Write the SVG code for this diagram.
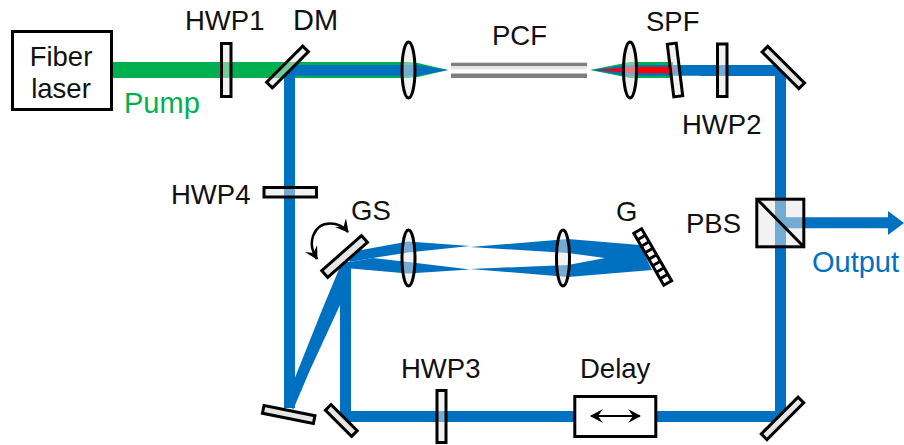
<svg xmlns="http://www.w3.org/2000/svg" width="904" height="445" viewBox="0 0 904 445">
<style>
text{font-family:"Liberation Sans",Arial,sans-serif;font-size:27.5px;fill:#111}
.big{font-size:29px}
.el{stroke:#000;stroke-width:3;fill:#e6e6e6}
.semi{fill-opacity:.5}
.box{stroke:#000;stroke-width:3;fill:#fff}
.blue{fill:#0070c0}
.green{fill:#00b050}
.red{fill:#ff0000}
</style>
<defs>
<marker id="stealth" viewBox="0 0 14 14" refX="12" refY="7" markerWidth="14" markerHeight="14" markerUnits="userSpaceOnUse" orient="auto-start-reverse">
<path d="M0,0 L13,7 L0,14 L5,7 Z" fill="#000"/>
</marker>
</defs>
<rect width="904" height="445" fill="#fff"/>
<g id="connectors">
<polygon class="green" points="112,62 408,62 418,63 448,70 418,77 408,78 112,78"/>
<polygon class="green" points="590,70 630,62 673,62 673,78 630,78"/>
<polygon class="blue" points="284,408 284,76 295,65 418,65 448,70 418,75.7 295,75.7 295,408"/>
<polygon class="blue" points="592,70 625,65 780,65 780,75.7 625,75.7"/>
<polygon class="red" points="596,70 635,66.7 674,66.7 674,73.3 635,73.3"/>
<path d="M345.5,262 V416.5 H780.5 V70.5 H700" fill="none" stroke="#0070c0" stroke-width="11"/>
<polygon class="blue" points="342,262 322,310 288,395 293,410 310,370 340,305 346,290"/>
<polygon class="blue" points="345,253 408,241.5 470,246 408,252.5 373,258 350,262"/>
<polygon class="blue" points="345,263 373,258 408,262 470,269.5 408,273.5 345,268"/>
<polygon class="blue" points="470,247 568,239 640,245 652,270 568,277 470,269 568,265 605,258 568,253"/>
<polygon class="blue" points="780,217.3 888,217.3 888,211 904,223 888,235 888,228.3 780,228.3"/>
</g>
<g id="fiber-laser">
<rect class="box" x="12.5" y="31.5" width="99" height="78"/>
<text x="61" y="66" text-anchor="middle">Fiber</text>
<text x="61" y="98" text-anchor="middle">laser</text>
</g>
<text class="big" x="124" y="113" style="fill:#00b050">Pump</text>
<g id="hwp1">
<rect class="el semi" x="221.5" y="43.5" width="9.5" height="53"/>
<text x="185" y="30">HWP1</text>
</g>
<g id="dm">
<rect class="el semi" x="-25.5" y="-4" width="51" height="8" transform="translate(287.5,67) rotate(-45)"/>
<text x="293" y="30" class="big">DM</text>
</g>
<g id="lens1"><ellipse class="el semi" cx="408.5" cy="70" rx="6.5" ry="28"/></g>
<g id="pcf">
<rect x="451" y="62.7" width="136" height="3.6" fill="#7f7f7f"/>
<rect x="451" y="66.3" width="136" height="3.2" fill="#e6e6e6"/>
<rect x="451" y="73.5" width="136" height="4.500" fill="#7f7f7f"/>
<text x="492" y="45">PCF</text>
</g>
<g id="lens2"><ellipse class="el semi" cx="630" cy="70" rx="6.5" ry="28"/></g>
<g id="spf">
<rect class="el semi" x="-4.5" y="-26.5" width="9" height="53" transform="translate(675,70) rotate(-7)"/>
<text x="646" y="31">SPF</text>
</g>
<g id="hwp2">
<rect class="el semi" x="717.5" y="44" width="9.5" height="52.5"/>
<text x="682" y="134">HWP2</text>
</g>
<g id="mirror-top-right"><rect class="el" x="-26" y="-4" width="52" height="8" transform="translate(783.3,67.5) rotate(45)"/></g>
<g id="hwp4">
<rect class="el semi" x="264" y="187.5" width="52.5" height="9.5"/>
<text x="171" y="204">HWP4</text>
</g>
<g id="pbs">
<rect class="el semi" x="756.8" y="199.2" width="47" height="47.6"/>
<line x1="757" y1="199" x2="804" y2="247" stroke="#000" stroke-width="3"/>
<text x="686" y="233">PBS</text>
</g>
<text class="big" x="812" y="272" style="fill:#0070c0">Output</text>
<g id="gs">
<rect class="el" x="-26.5" y="-4.5" width="53" height="9" transform="translate(344.6,256.5) rotate(-41.4)"/>
<path d="M348,232 C340,222 320,218 313,236 C310,246 313,252 317,259" fill="none" stroke="#000" stroke-width="2.5" marker-start="url(#stealth)" marker-end="url(#stealth)"/>
<text x="351" y="220">GS</text>
</g>
<g id="lens3"><ellipse class="el semi" cx="408.5" cy="258" rx="6.5" ry="28"/></g>
<g id="lens4"><ellipse class="el semi" cx="563" cy="258" rx="6.5" ry="28"/></g>
<g id="grating" transform="translate(652.7,257) rotate(60)">
<rect x="-30" y="-4.5" width="60" height="9" fill="#fff" stroke="#000" stroke-width="3"/>
<path d="M-22.5,-4.5 V4.5 M-15,-4.5 V4.5 M-7.5,-4.5 V4.5 M0,-4.5 V4.5 M7.5,-4.5 V4.5 M15,-4.5 V4.5 M22.5,-4.5 V4.5" stroke="#000" stroke-width="3" fill="none"/>
</g>
<text x="616" y="221">G</text>
<g id="mirror-bottom-far-left"><rect class="el" x="-26" y="-4" width="52" height="8" transform="translate(288.7,414.5) rotate(11.5)"/></g>
<g id="mirror-bottom-left"><rect class="el" x="-18.5" y="-4" width="37" height="8" transform="translate(341.3,420.5) rotate(45)"/></g>
<g id="hwp3">
<rect class="el semi" x="437" y="390.5" width="9" height="52"/>
<text x="401" y="378">HWP3</text>
</g>
<g id="delay">
<rect class="box" x="574.8" y="396.5" width="81" height="40"/>
<line x1="591" y1="416" x2="640" y2="416" stroke="#000" stroke-width="2" marker-start="url(#stealth)" marker-end="url(#stealth)"/>
<text x="580" y="378">Delay</text>
</g>
<g id="mirror-bottom-right"><rect class="el" x="-26" y="-4" width="52" height="8" transform="translate(782.5,418.4) rotate(-45)"/></g>
</svg>
